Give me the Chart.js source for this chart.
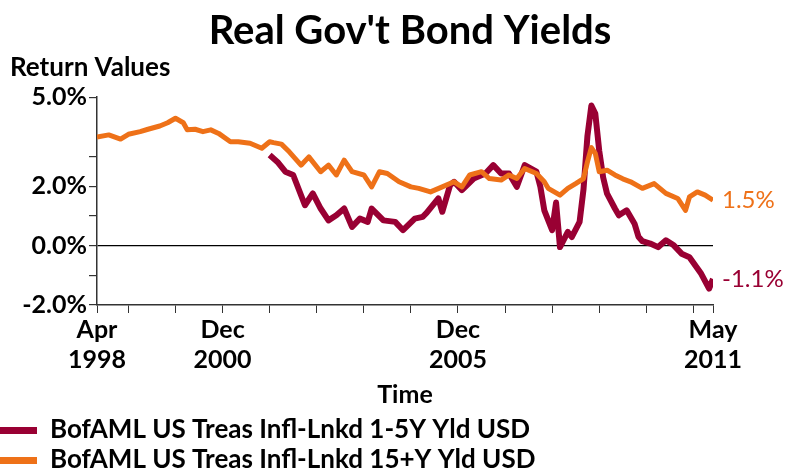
<!DOCTYPE html>
<html>
<head>
<meta charset="utf-8">
<script src="https://cdn.jsdelivr.net/npm/chart.js@4/dist/chart.umd.min.js"></script>
<style>
  html, body { margin: 0; padding: 0; background: #fff; }
  canvas { display: block; }
</style>
</head>
<body>
<canvas id="yieldChart" width="786" height="470"></canvas>
<script>
// month strings and real yields (%)
const shortDates = ['2001-12','2002-02','2002-04','2002-06','2002-09','2002-11','2003-01','2003-03','2003-05','2003-07','2003-09','2003-11','2004-01','2004-02','2004-05','2004-08','2004-10','2005-01','2005-03','2005-04','2005-07','2005-08','2005-10','2005-11','2006-01','2006-04','2006-07','2006-09','2006-11','2007-01','2007-03','2007-05','2007-08','2007-09','2007-10','2007-12','2008-01','2008-02','2008-04','2008-05','2008-07','2008-08','2008-09','2008-10','2008-11','2008-12','2009-01','2009-02','2009-04','2009-05','2009-07','2009-09','2009-10','2009-11','2010-01','2010-03','2010-05','2010-07','2010-09','2010-11','2011-02','2011-04','2011-05'];
const shortYields = [3.05,2.82,2.49,2.38,1.36,1.76,1.25,0.85,1.02,1.25,0.63,0.91,0.80,1.25,0.85,0.80,0.52,0.91,0.97,1.10,1.59,1.14,2.04,2.15,1.87,2.26,2.43,2.71,2.43,2.43,1.98,2.71,2.49,1.98,1.19,0.52,1.45,-0.05,0.46,0.29,0.80,1.90,3.70,4.72,4.45,3.20,2.30,1.75,1.25,1.02,1.19,0.74,0.30,0.15,0.07,-0.05,0.18,0.01,-0.27,-0.39,-0.95,-1.45,-1.12];

const longDates = ['1998-04','1998-07','1998-10','1998-12','1999-03','1999-05','1999-08','1999-10','1999-12','2000-02','2000-03','2000-05','2000-07','2000-09','2000-11','2001-02','2001-04','2001-07','2001-10','2001-12','2002-01','2002-03','2002-05','2002-08','2002-10','2003-01','2003-03','2003-05','2003-07','2003-09','2003-12','2004-02','2004-04','2004-06','2004-09','2004-12','2005-02','2005-05','2005-08','2005-11','2006-01','2006-03','2006-06','2006-08','2006-11','2007-01','2007-03','2007-05','2007-08','2007-10','2007-11','2008-02','2008-04','2008-06','2008-08','2008-09','2008-10','2008-11','2008-12','2009-02','2009-04','2009-06','2009-08','2009-11','2010-02','2010-05','2010-08','2010-10','2010-11','2011-01','2011-03','2011-05'];
const longYields = [3.66,3.73,3.59,3.75,3.84,3.92,4.03,4.14,4.29,4.14,3.90,3.92,3.84,3.90,3.78,3.50,3.50,3.45,3.28,3.50,3.47,3.42,3.16,2.71,2.99,2.49,2.71,2.38,2.88,2.49,2.38,1.98,2.49,2.43,2.15,1.98,1.93,1.81,1.98,2.15,1.98,2.38,2.49,2.26,2.21,2.38,2.26,2.60,2.43,2.15,1.93,1.70,1.93,2.09,2.26,2.82,3.30,3.11,2.49,2.54,2.38,2.25,2.15,1.93,2.09,1.76,1.59,1.19,1.64,1.81,1.70,1.53];

const seriesNames = ['BofAML US Treas Infl-Lnkd 1-5Y Yld USD', 'BofAML US Treas Infl-Lnkd 15+Y Yld USD'];
const seriesColors = ['#990033', '#ee7118'];

const xStart = '1998-04';
const xEnd = '2011-05';
const xLabelDates = ['1998-04', '2000-12', '2005-12', '2011-05'];
const xLabelText = [['Apr', '1998'], ['Dec', '2000'], ['Dec', '2005'], ['May', '2011']];
const yTickValues = [-2, -1, 0, 1, 2, 3, 5];
const yLabelValues = [-2, 0, 2, 5];

const FONT = "Lato, 'DejaVu Sans', sans-serif";

// months counted from April 1998
function monthIndex(s) {
    const parts = s.split('-').map(Number);
    return (parts[0] - 1998) * 12 + parts[1] - 4;
}

function toPoints(dates, values) {
    return dates.map((d, i) => ({ x: monthIndex(d), y: values[i] }));
}

const xMin = monthIndex(xStart);
const xMax = monthIndex(xEnd);
const xLabelIdx = xLabelDates.map(monthIndex);
const xTickIdx = [xMin];
for (let y = 1998; y <= 2010; y++) xTickIdx.push(monthIndex(y + '-12'));
xTickIdx.push(xMax);

// title sits a bit right of centre in the original
const chartTitle = {
    id: 'chartTitle',
    afterDraw(chart) {
        const ctx = chart.ctx;
        ctx.save();
        ctx.font = 'bold 40px ' + FONT;
        ctx.fillStyle = '#000';
        ctx.textAlign = 'center';
        ctx.textBaseline = 'middle';
        ctx.fillText("Real Gov't Bond Yields", 410, 31);
        ctx.restore();
    }
};

const endLabels = {
    id: 'endLabels',
    afterDatasetsDraw(chart) {
        const ctx = chart.ctx;
        ctx.save();
        ctx.font = '24px ' + FONT;
        ctx.textBaseline = 'middle';
        ctx.textAlign = 'left';
        chart.data.datasets.forEach((ds, i) => {
            const meta = chart.getDatasetMeta(i);
            const last = meta.data[meta.data.length - 1];
            const v = ds.data[ds.data.length - 1].y;
            ctx.fillStyle = ds.borderColor;
            ctx.fillText(v.toFixed(1) + '%', last.x + 9, last.y);
        });
        ctx.restore();
    }
};

const bottomLegend = {
    id: 'bottomLegend',
    afterDraw(chart) {
        const ctx = chart.ctx;
        ctx.save();
        ctx.font = 'bold 26px ' + FONT;
        ctx.textBaseline = 'middle';
        chart.data.datasets.forEach((ds, i) => {
            const y = 430 + i * 30;
            ctx.fillStyle = ds.borderColor;
            ctx.fillRect(0, y - 3, 37, 7);
            ctx.fillStyle = '#000';
            ctx.fillText(ds.label, 50, y);
        });
        ctx.restore();
    }
};

const ctx = document.getElementById('yieldChart').getContext('2d');
new Chart(ctx, {
    type: 'line',
    data: {
        datasets: [{
            label: seriesNames[0],
            data: toPoints(shortDates, shortYields),
            borderColor: seriesColors[0],
            backgroundColor: seriesColors[0],
            borderWidth: 6,
            order: 1
        }, {
            label: seriesNames[1],
            data: toPoints(longDates, longYields),
            borderColor: seriesColors[1],
            backgroundColor: seriesColors[1],
            borderWidth: 5,
            order: 0
        }]
    },
    options: {
        responsive: false,
        animation: false,
        elements: {
            point: { radius: 0 },
            line: { tension: 0, borderJoinStyle: 'round' }
        },
        layout: { padding: { left: 10, right: 73, top: 52, bottom: 60 } },
        plugins: {
            legend: { display: false },
            tooltip: { enabled: false },
            title: { display: false },
            subtitle: {
                display: true,
                text: 'Return Values',
                align: 'start',
                color: '#000',
                font: { family: FONT, size: 26, weight: 'bold' },
                padding: { top: 0, bottom: 14 }
            }
        },
        scales: {
            x: {
                type: 'linear',
                min: xMin,
                max: xMax,
                afterBuildTicks(scale) {
                    scale.ticks = xTickIdx.map(v => ({ value: v }));
                },
                ticks: {
                    autoSkip: false,
                    maxRotation: 0,
                    color: '#000',
                    padding: 2,
                    font: { family: FONT, size: 25, weight: 'bold', lineHeight: 1.2 },
                    callback(value) {
                        const k = xLabelIdx.indexOf(value);
                        return k >= 0 ? xLabelText[k] : '';
                    }
                },
                grid: { drawOnChartArea: false, tickLength: 8, tickColor: '#333' },
                border: { color: '#333', width: 1.5 },
                title: {
                    display: true,
                    text: 'Time',
                    color: '#000',
                    font: { family: FONT, size: 25, weight: 'bold' },
                    padding: { top: 3, bottom: 0 }
                }
            },
            y: {
                min: -2,
                max: 5,
                afterBuildTicks(scale) {
                    scale.ticks = yTickValues.map(v => ({ value: v }));
                },
                afterFit(scale) {
                    scale.width = 87;
                },
                ticks: {
                    autoSkip: false,
                    color: '#000',
                    padding: 2,
                    font: { family: FONT, size: 25, weight: 'bold' },
                    callback(value) {
                        return yLabelValues.includes(value) ? value.toFixed(1) + '%' : '';
                    }
                },
                grid: {
                    color: c => (c.tick && c.tick.value === 0 ? '#000' : 'rgba(0,0,0,0)'),
                    lineWidth: 1.2,
                    tickLength: 8,
                    tickColor: '#333'
                },
                border: { color: '#333', width: 1.5 }
            }
        }
    },
    plugins: [chartTitle, endLabels, bottomLegend]
});
</script>
</body>
</html>
